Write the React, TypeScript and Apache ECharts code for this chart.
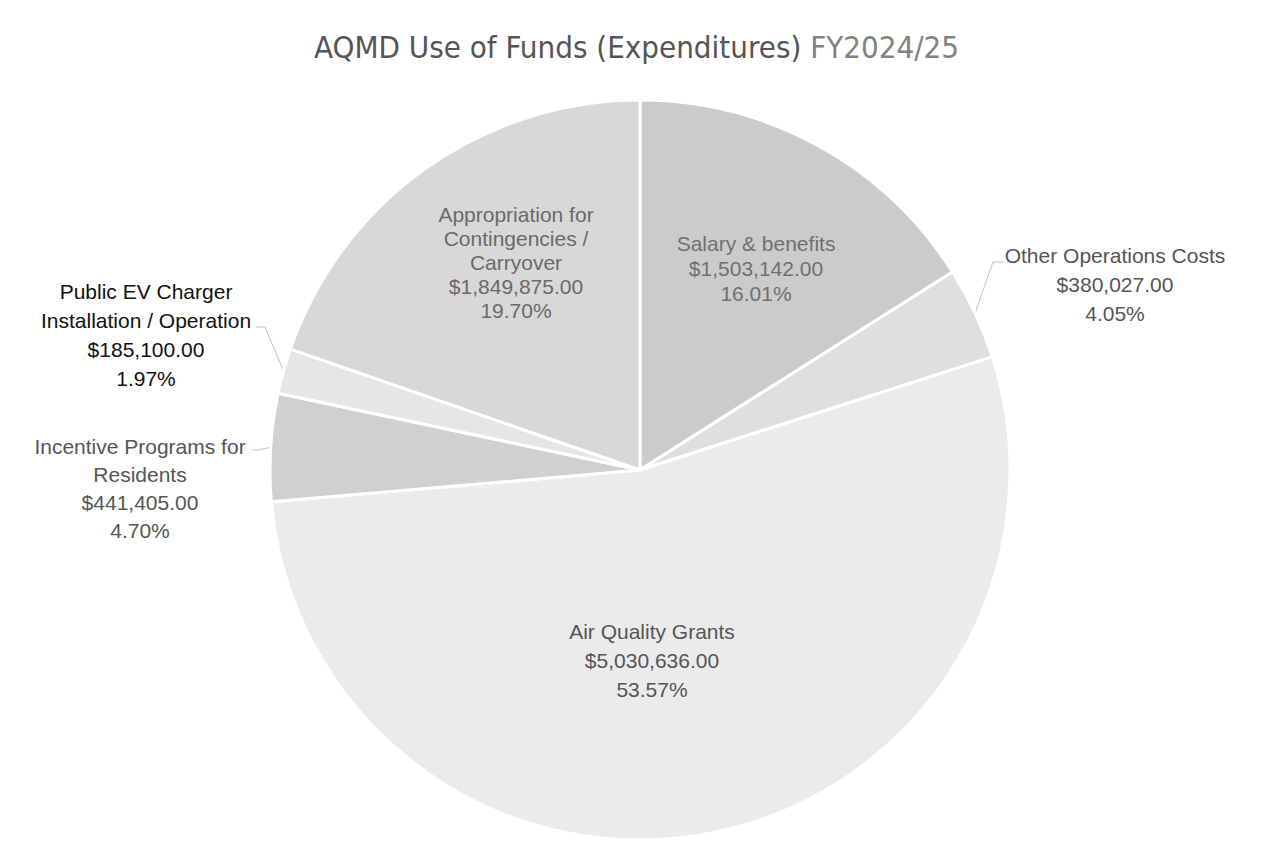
import React, { useEffect, useRef } from 'react';
import * as echarts from 'echarts';

const titleMain = 'AQMD Use of Funds (Expenditures) ';
const titleYear = 'FY2024/25';

const categories = [
  'Salary & benefits',
  'Other Operations Costs',
  'Air Quality Grants',
  'Incentive Programs for Residents',
  'Public EV Charger Installation / Operation',
  'Appropriation for Contingencies / Carryover',
];
const labelNames = [
  'Salary & benefits',
  'Other Operations Costs',
  'Air Quality Grants',
  'Incentive Programs for\nResidents',
  'Public EV Charger\nInstallation / Operation',
  'Appropriation for\nContingencies /\nCarryover',
];
const amounts = [1503142, 380027, 5030636, 441405, 185100, 1849875];

// presentation config
const sliceColors = ['#cbcbcb', '#dfdfdf', '#ebebeb', '#d0d0d0', '#e6e6e6', '#d8d8d8'];
const labelColors = ['#707070', '#555555', '#555555', '#555555', '#111111', '#6a6a6a'];
const labelLineHeights = [25, 29, 29, 28, 29, 24];
const outside = [false, true, false, true, true, false];
// label anchor spots (centre of text block) and leader turning points
const labelSpots: [number, number][] = [
  [756, 268],
  [1115, 284],
  [652, 660],
  [140, 488],
  [146, 335],
  [516, 262],
];
const leaderTurns: ([number, number][] | null)[] = [
  null,
  [[993, 262], [1004, 262]],
  null,
  [[258, 450], [252, 450]],
  [[265, 327], [256, 327]],
  null,
];

const fmtMoney = (v: number) =>
  '$' + v.toLocaleString('en-US', { minimumFractionDigits: 2, maximumFractionDigits: 2 });

export default function App() {
  const ref = useRef<HTMLDivElement>(null);
  useEffect(() => {
    document.body.style.margin = '0';
    const chart = echarts.init(ref.current!, undefined, { renderer: 'svg' });
    const data = categories.map((name, i) => ({
      name,
      value: amounts[i],
      itemStyle: { color: sliceColors[i] },
      label: {
        position: outside[i] ? 'outside' : 'inside',
        color: labelColors[i],
        lineHeight: labelLineHeights[i],
        fontSize: 21,
      },
      labelLine: { show: outside[i], lineStyle: { color: '#c4c4c4', width: 1 } },
    }));
    chart.setOption({
      animation: false,
      backgroundColor: '#ffffff',
      title: {
        text: '{a|' + titleMain + '}{b|' + titleYear + '}',
        left: 'center',
        top: 26,
        textStyle: {
          fontWeight: 'normal',
          rich: {
            a: { fontFamily: 'DejaVu Sans Condensed, Roboto, sans-serif', fontSize: 31, fontWeight: 'normal', color: '#555555' },
            b: { fontFamily: 'DejaVu Sans Condensed, Roboto, sans-serif', fontSize: 31, fontWeight: 'normal', color: '#828282' },
          },
        },
      },
      series: [
        {
          type: 'pie',
          center: [640, 470],
          radius: [0, 370],
          startAngle: 90,
          clockwise: true,
          percentPrecision: 2,
          itemStyle: { borderColor: '#ffffff', borderWidth: 3 },
          emphasis: { disabled: true },
          label: {
            show: true,
            fontFamily: 'Liberation Sans, Arial, sans-serif',
            fontSize: 21,
            align: 'center',
            formatter: (p: any) =>
              labelNames[p.dataIndex] + '\n' + fmtMoney(p.value) + '\n' + p.percent.toFixed(2) + '%',
          },
          labelLayout: (params: any) => {
            const i = params.dataIndex;
            const res: any = {
              x: labelSpots[i][0],
              y: labelSpots[i][1],
              align: 'center',
              verticalAlign: 'middle',
            };
            const turns = leaderTurns[i];
            if (turns && params.labelLinePoints) {
              res.labelLinePoints = [params.labelLinePoints[0], turns[0], turns[1]];
            }
            return res;
          },
          data,
        },
      ],
    });
    return () => chart.dispose();
  }, []);
  return <div ref={ref} style={{ width: 1273, height: 868 }} />;
}
